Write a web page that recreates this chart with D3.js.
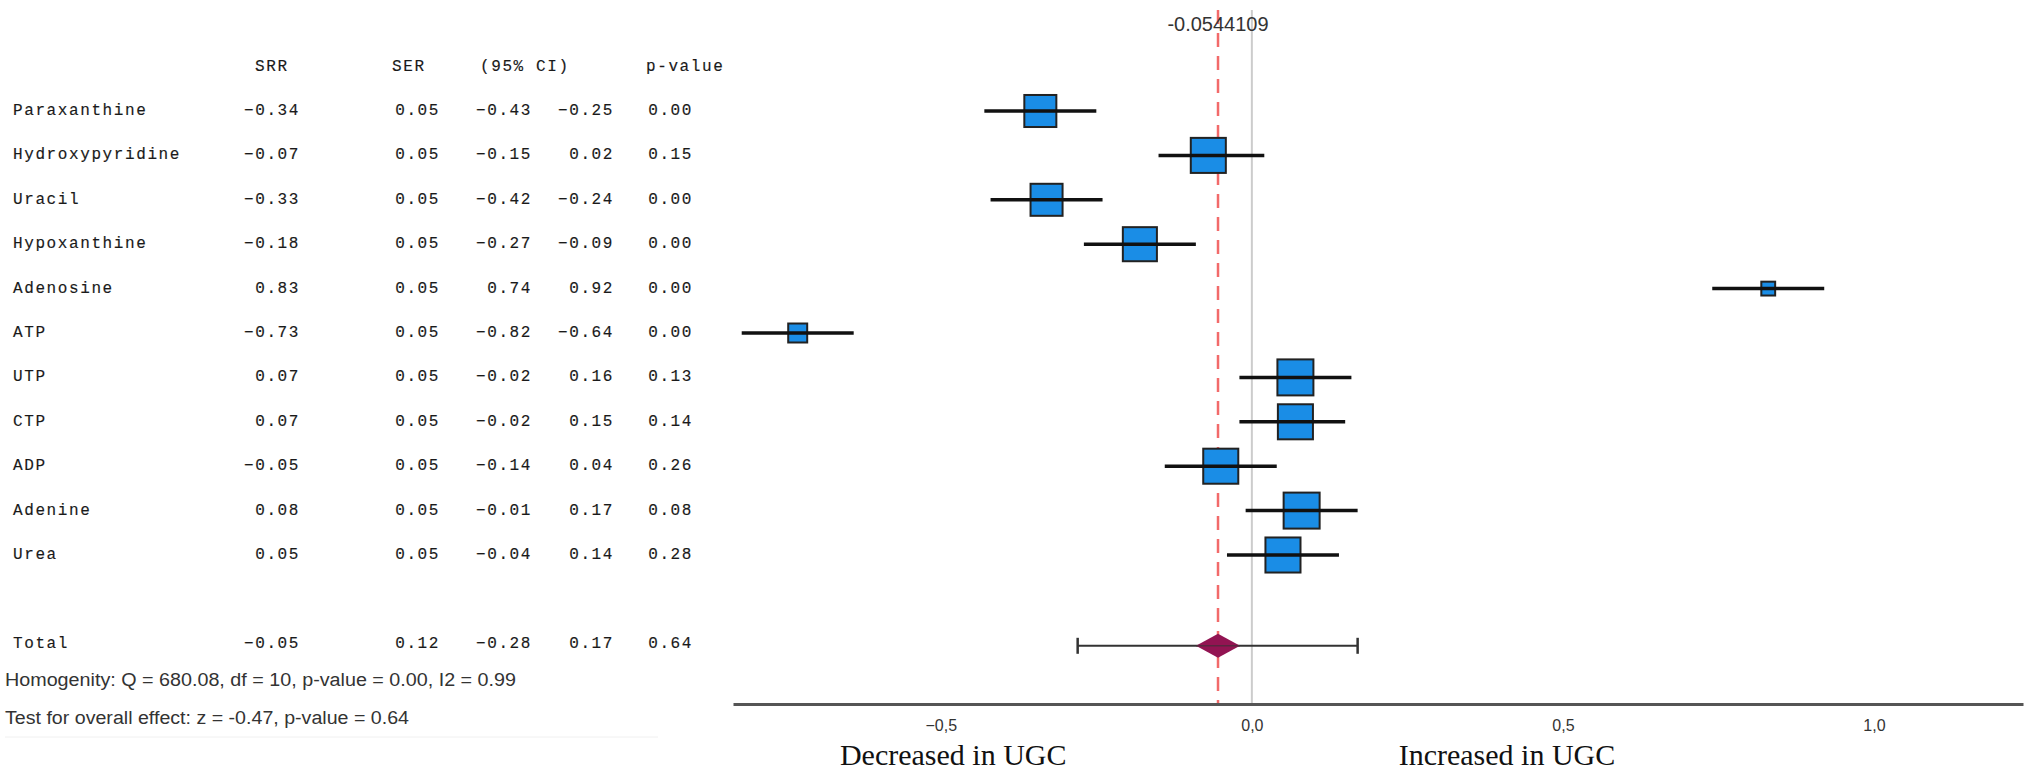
<!DOCTYPE html>
<html>
<head>
<meta charset="utf-8">
<script src="https://cdn.jsdelivr.net/npm/d3@7/dist/d3.min.js"></script>
<style>
  body { margin: 0; background: #fff; }
  .mono { font-family: "Courier New", "Liberation Mono", monospace; font-size: 16px; letter-spacing: 1.6px; fill: #1a1a1a; stroke: #1a1a1a; stroke-width: 0.15px; }
  .sans { font-family: "Liberation Sans Narrow", "Arial Narrow", "Liberation Sans", Arial, sans-serif; fill: #333; }
  .serif { font-family: "Liberation Serif", "Times New Roman", serif; fill: #111; }
</style>
</head>
<body>
<script>
// study rows
const names = ["Paraxanthine", "Hydroxypyridine", "Uracil", "Hypoxanthine", "Adenosine", "ATP", "UTP", "CTP", "ADP", "Adenine", "Urea"];
const srr   = [-0.34, -0.07, -0.33, -0.18, 0.83, -0.73, 0.07, 0.07, -0.05, 0.08, 0.05];
const ser   = [0.05, 0.05, 0.05, 0.05, 0.05, 0.05, 0.05, 0.05, 0.05, 0.05, 0.05];
const ciLow = [-0.43, -0.15, -0.42, -0.27, 0.74, -0.82, -0.02, -0.02, -0.14, -0.01, -0.04];
const ciHigh= [-0.25, 0.02, -0.24, -0.09, 0.92, -0.64, 0.16, 0.15, 0.04, 0.17, 0.14];
const pval  = [0.00, 0.15, 0.00, 0.00, 0.00, 0.00, 0.13, 0.14, 0.26, 0.08, 0.28];
const weight= [9.1, 10.9, 9.1, 10.3, 1.7, 3.2, 11.5, 10.9, 10.9, 11.5, 10.9];

// pooled
const total = { name: "Total", srr: -0.05, ser: 0.12, lo: -0.28, hi: 0.17, p: 0.64, est: -0.0544109 };
const headers = ["SRR", "SER", "(95% CI)", "p-value"];
const xTicks = [-0.5, 0, 0.5, 1.0];
const footLines = [
    "Homogenity: Q = 680.08, df = 10, p-value = 0.00, I2 = 0.99",
    "Test for overall effect: z = -0.47, p-value = 0.64"
];
const sideLabels = [
    { text: "Decreased in UGC", at: -0.48 },
    { text: "Increased in UGC", at: 0.41 }
];

const W = 2030, H = 771;
const svg = d3.select("body").append("svg").attr("width", W).attr("height", H);

const rows = names.map((n, i) => ({
    name: n, srr: srr[i], ser: ser[i], lo: ciLow[i], hi: ciHigh[i], p: pval[i], w: weight[i], idx: i
}));
total.idx = 12;

const x = d3.scaleLinear().domain([-0.834, 1.2395]).range([733, 2023]);
const y = d3.scaleLinear().domain([0, 10]).range([111, 555]);
const size = d3.scaleSqrt().domain([0, 11.5]).range([0, 36]);
const axisY = 704;
const f2 = d3.format(".2f");

// ---- table on the left
const table = svg.append("g");
table.selectAll(".hdr").data(headers).enter().append("text")
    .attr("class", "mono hdr")
    .attr("x", (d, i) => [255, 392, 480, 646][i])
    .attr("y", 67)
    .attr("dominant-baseline", "central")
    .text(d => d);

const cols = [
    { key: "srr", x: 300 },
    { key: "ser", x: 440 },
    { key: "lo", x: 532 },
    { key: "hi", x: 614 },
    { key: "p", x: 693 }
];
const allRows = rows.concat([total]);
const tr = table.selectAll(".row").data(allRows).enter().append("g")
    .attr("class", "row")
    .attr("transform", d => `translate(0,${y(d.idx)})`);
tr.append("text").attr("class", "mono").attr("x", 13).attr("dominant-baseline", "central").text(d => d.name);
cols.forEach(c => {
    tr.append("text").attr("class", "mono")
        .attr("x", c.x).attr("text-anchor", "end").attr("dominant-baseline", "central")
        .text(d => f2(d[c.key]));
});

// footnotes
svg.selectAll(".foot").data(footLines).enter().append("text")
    .attr("class", "sans foot")
    .attr("x", 5)
    .attr("y", (d, i) => [680, 718][i])
    .attr("dominant-baseline", "central")
    .attr("font-size", 18)
    .attr("textLength", (d, i) => [511, 404][i])
    .attr("lengthAdjust", "spacingAndGlyphs")
    .text(d => d);
svg.append("line").attr("x1", 5).attr("x2", 658).attr("y1", 737).attr("y2", 737)
    .attr("stroke", "#f0f0f0").attr("stroke-width", 1);

// ---- reference lines
svg.append("line")
    .attr("x1", x(0)).attr("x2", x(0)).attr("y1", 10).attr("y2", axisY)
    .attr("stroke", "#cccccc").attr("stroke-width", 2);
svg.append("line")
    .attr("x1", x(total.est)).attr("x2", x(total.est)).attr("y1", 10).attr("y2", axisY)
    .attr("stroke", "#f26a6a").attr("stroke-width", 2.5).attr("stroke-dasharray", "14,9");
svg.append("text").attr("class", "sans")
    .attr("x", x(total.est)).attr("y", 24)
    .attr("text-anchor", "middle").attr("dominant-baseline", "central")
    .attr("font-size", 20)
    .text(String(total.est));

// ---- study marks
const plot = svg.append("g");
const mk = plot.selectAll(".mk").data(rows).enter().append("g").attr("class", "mk");
mk.append("rect")
    .attr("x", d => x(d.srr) - size(d.w) / 2)
    .attr("y", d => y(d.idx) - size(d.w) / 2)
    .attr("width", d => size(d.w)).attr("height", d => size(d.w))
    .attr("fill", "#1a8de6").attr("stroke", "#222").attr("stroke-width", 2);
mk.append("line")
    .attr("x1", d => x(d.lo)).attr("x2", d => x(d.hi))
    .attr("y1", d => y(d.idx)).attr("y2", d => y(d.idx))
    .attr("stroke", "#111").attr("stroke-width", 3.5);

// pooled estimate
const ty = y(total.idx) + 2;
plot.append("line").attr("x1", x(total.lo)).attr("x2", x(total.hi)).attr("y1", ty).attr("y2", ty)
    .attr("stroke", "#333").attr("stroke-width", 2);
[total.lo, total.hi].forEach(v => {
    plot.append("line").attr("x1", x(v)).attr("x2", x(v)).attr("y1", ty - 8).attr("y2", ty + 8)
        .attr("stroke", "#333").attr("stroke-width", 2.5);
});
plot.append("path")
    .attr("d", `M${x(total.est) - 22},${ty} L${x(total.est)},${ty - 12} L${x(total.est) + 22},${ty} L${x(total.est)},${ty + 12} Z`)
    .attr("fill", "#921452");
plot.append("line").attr("x1", x(total.est) - 22).attr("x2", x(total.est) + 22).attr("y1", ty).attr("y2", ty)
    .attr("stroke", "#333").attr("stroke-width", 1.5).attr("opacity", 0.6);

// ---- x axis
const xAxis = d3.axisBottom(x)
    .tickValues(xTicks)
    .tickSize(0)
    .tickPadding(16)
    .tickFormat(d => d3.format(".1f")(d).replace(".", ","));
const axG = svg.append("g").attr("transform", `translate(0,${axisY})`).call(xAxis);
axG.select(".domain").attr("stroke", "#555").attr("stroke-width", 3);
axG.selectAll(".tick text").attr("class", "sans").attr("font-size", 16).attr("fill", "#333");

svg.selectAll(".side").data(sideLabels).enter().append("text")
    .attr("class", "serif side")
    .attr("x", d => x(d.at)).attr("y", 765)
    .attr("text-anchor", "middle")
    .attr("font-size", 30)
    .text(d => d.text);
</script>
</body>
</html>
